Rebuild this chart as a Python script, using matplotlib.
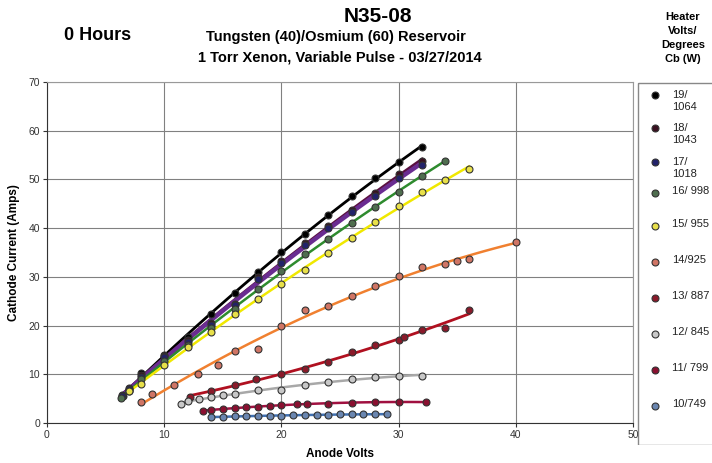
import numpy as np
import matplotlib
matplotlib.use("Agg")
import matplotlib.pyplot as plt
from matplotlib.patches import Rectangle

plt.rcParams['font.family'] = ['Liberation Sans', 'DejaVu Sans']

# ---- data ----
labels = ["19/\n1064", "18/\n1043", "17/\n1018", "16/ 998", "15/ 955",
          "14/925", "13/ 887", "12/ 845", "11/ 799", "10/749"]

v19 = [6.5, 7, 8, 10, 12, 14, 16, 18, 20, 22, 24, 26, 28, 30, 32]
i19 = [5.5, 6.8, 10.3, 14.0, 17.6, 22.3, 26.6, 30.9, 35.2, 38.7, 42.6, 46.5, 50.2, 53.5, 56.7]

v18 = [6.4, 7, 8, 10, 12, 14, 16, 18, 20, 22, 24, 26, 28, 30, 32]
i18 = [5.8, 7.2, 9.8, 13.7, 17.0, 20.5, 24.5, 29.9, 33.2, 36.9, 40.5, 43.8, 47.2, 51.1, 53.8]

v17 = [6.4, 7, 8, 10, 12, 14, 16, 18, 20, 22, 24, 26, 28, 30, 32]
i17 = [5.6, 7.0, 9.5, 13.5, 16.7, 20.1, 24.2, 29.5, 32.8, 36.5, 40.1, 43.4, 46.6, 50.3, 53.0]

v16 = [6.3, 7, 8, 10, 12, 14, 16, 18, 20, 22, 24, 26, 28, 30, 32, 34]
i16 = [5.2, 6.5, 9.0, 12.8, 16.0, 19.5, 23.5, 27.5, 31.1, 34.7, 37.8, 41.1, 44.4, 47.5, 50.8, 53.8]

v15 = [7, 8, 10, 12, 14, 16, 18, 20, 22, 24, 26, 28, 30, 32, 34, 36]
i15 = [6.5, 8.1, 11.9, 15.5, 18.7, 22.3, 25.5, 28.5, 31.4, 35.0, 38.0, 41.3, 44.6, 47.4, 49.9, 52.2]

v14 = [8, 9, 10.8, 12.9, 14.6, 16, 18, 20, 22, 24, 26, 28, 30, 32, 34, 35, 36, 40]
i14 = [4.3, 5.9, 7.9, 10.1, 12.0, 14.8, 15.2, 20.0, 23.1, 24.0, 26.1, 28.1, 30.2, 32.1, 32.6, 33.3, 33.6, 37.1]

v13 = [12.2, 14, 16, 17.8, 20, 22, 24, 26, 28, 30, 30.5, 32, 34, 36]
i13 = [5.4, 6.6, 7.8, 9.0, 10.1, 11.0, 12.6, 14.5, 16.0, 17.0, 17.6, 19.1, 19.6, 23.1]

v12 = [11.4, 12, 13, 14, 15, 16, 18, 20, 22, 24, 26, 28, 30, 32]
i12 = [3.9, 4.5, 5.0, 5.3, 5.75, 6.0, 6.7, 6.8, 7.7, 8.5, 9.0, 9.4, 9.7, 9.7]

v11 = [13.3, 14, 15, 16, 17, 18, 19, 20, 21.3, 22.2, 24, 26, 28, 30, 32.3]
i11 = [2.5, 2.7, 2.9, 3.1, 3.2, 3.35, 3.5, 3.6, 3.9, 3.9, 4.0, 4.2, 4.25, 4.4, 4.25]

v10 = [14, 15, 16, 17, 18, 19, 20, 21, 22, 23, 24, 25, 26, 27, 28, 29]
i10 = [1.2, 1.3, 1.35, 1.4, 1.45, 1.5, 1.5, 1.6, 1.65, 1.7, 1.7, 1.75, 1.75, 1.8, 1.8, 1.8]

series_v = [v19, v18, v17, v16, v15, v14, v13, v12, v11, v10]
series_i = [i19, i18, i17, i16, i15, i14, i13, i12, i11, i10]

marker_colors = ['#000000', '#3a1020', '#22226a', '#4f6e4f', '#e8e04a',
                 '#d07565', '#8a1a2a', '#c8c8c8', '#8a1030', '#6a86b0']
line_colors = ['#000000', '#5a1040', '#6a2c91', '#2e8b2e', '#f0e800',
               '#f08030', '#b01020', '#a8a8a8', '#a01040', '#4070b0']
line_widths = [2.0, 2.0, 3.2, 1.8, 1.8, 1.8, 2.0, 1.8, 1.8, 1.8]

fig = plt.figure(figsize=(7.12, 4.63), dpi=100)
ax = fig.add_axes([47/712, 1-423/463, (633-47)/712, (423-82)/463])

for k in range(len(series_v)):
    v = np.array(series_v[k]); c = np.array(series_i[k])
    coef = np.polyfit(v, c, 2)
    xs = np.linspace(v.min(), v.max(), 100)
    ax.plot(xs, np.polyval(coef, xs), color=line_colors[k], lw=line_widths[k], zorder=3)
for k in range(len(series_v)):
    ax.plot(series_v[k], series_i[k], 'o', ms=5, mfc=marker_colors[k],
            mec='#333333', mew=0.8, ls='none', zorder=4)

ax.set_xlim(0, 50)
ax.set_ylim(0, 70)
ax.set_xticks(range(0, 51, 10))
ax.set_yticks(range(0, 71, 10))
ax.grid(True, color='#808080', lw=0.8)
ax.set_axisbelow(True)
for s in ['top', 'right']:
    ax.spines[s].set_color('#999999')
ax.spines['left'].set_color('#333333')
ax.spines['bottom'].set_color('#333333')
ax.tick_params(labelsize=7.5, length=3, pad=2, colors='#333333')
ax.set_xlabel('Anode Volts', fontsize=8.5, fontweight='bold', labelpad=6)
ax.set_ylabel('Cathode Current (Amps)', fontsize=8.5, fontweight='bold', labelpad=6)

fig.text(378/712, 1-16/463, 'N35-08', ha='center', va='center', fontsize=15, fontweight='bold')
fig.text(336/712, 1-37/463, 'Tungsten (40)/Osmium (60) Reservoir', ha='center', va='center',
         fontsize=10.5, fontweight='bold')
fig.text(340/712, 1-57/463, '1 Torr Xenon, Variable Pulse - 03/27/2014', ha='center', va='center',
         fontsize=10.5, fontweight='bold')
fig.text(98/712, 1-35/463, '0 Hours', ha='center', va='center', fontsize=13, fontweight='bold')
fig.text(683/712, 1-38/463, 'Heater\nVolts/\nDegrees\nCb (W)', ha='center', va='center',
         fontsize=8, fontweight='bold', linespacing=1.5)

# legend box
lax = fig.add_axes([637/712, 1-445/463, 80/712, (445-82)/463])
lax.set_xlim(0, 80); lax.set_ylim(445, 82)
lax.axis('off')
lax.add_patch(Rectangle((0.5, 82.5), 90, 362, fill=False, ec='#888888', lw=1))
ys = [95, 128, 162, 193, 226, 262, 298, 334, 370, 406]
for k, y in enumerate(ys):
    lax.plot([18], [y], 'o', ms=5, mfc=marker_colors[k], mec='#333333', mew=0.8)
    lax.text(35, y - 2 if '\n' not in labels[k] else y + 6, labels[k], fontsize=8,
             va='center', ha='left', color='#222222', linespacing=1.2)

fig.savefig('out.png', dpi=100)
